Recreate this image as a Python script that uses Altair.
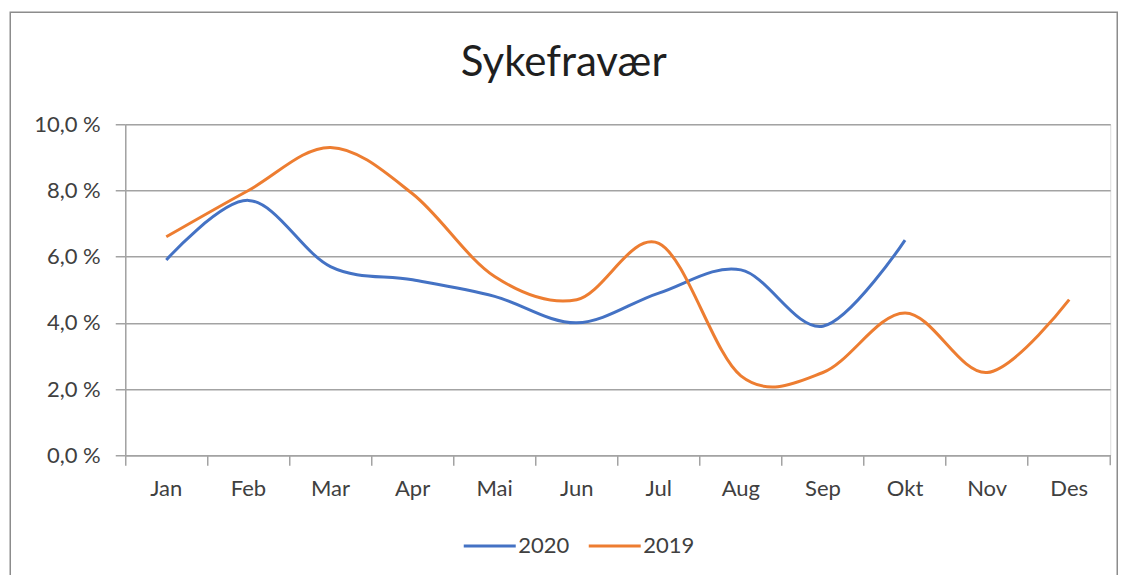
import altair as alt
import pandas as pd

months = ["Jan", "Feb", "Mar", "Apr", "Mai", "Jun", "Jul", "Aug", "Sep", "Okt", "Nov", "Des"]
series = ["2020", "2019"]
colors = ["#4472C4", "#ED7D31"]
v2020 = [5.9, 7.7, 5.7, 5.3, 4.8, 4.0, 4.9, 5.6, 3.9, 6.5]
v2019 = [6.6, 8.0, 9.3, 7.9, 5.4, 4.7, 6.4, 2.4, 2.5, 4.3, 2.5, 4.7]
y_ticks = [0, 2, 4, 6, 8, 10]

rows = []
for m, v in zip(months, v2020):
    rows.append({"Måned": m, "Sykefravær": v, "År": "2020"})
for m, v in zip(months, v2019):
    rows.append({"Måned": m, "Sykefravær": v, "År": "2019"})
df = pd.DataFrame(rows)

W, H = 985, 331
FONT = "Lato"
GRID = "#a3a3a3"
TEXT = "#404040"
LABEL_SIZE = 22

lines = alt.Chart(df).mark_line(interpolate="cardinal", tension=0, strokeWidth=3).encode(
    x=alt.X(
        "Måned:N",
        sort=months,
        bandPosition=0.5,
        scale=alt.Scale(type="band", paddingInner=0, paddingOuter=0),
        axis=alt.Axis(
            title=None, labelAngle=0, bandPosition=0, grid=False,
            domainColor=GRID, domainWidth=1.5, tickColor=GRID, tickWidth=1.5, tickSize=10,
            labelFont=FONT, labelFontSize=LABEL_SIZE, labelColor=TEXT, labelPadding=13,
        ),
    ),
    y=alt.Y(
        "Sykefravær:Q",
        scale=alt.Scale(domain=[0, 10], nice=False),
        axis=alt.Axis(
            title=None, values=y_ticks,
            labelExpr="replace(format(datum.value, '.1f'), '.', ',') + ' %'",
            grid=True, gridColor=GRID, gridWidth=1.5,
            domainColor=GRID, domainWidth=1.5, tickColor=GRID, tickWidth=1.5, tickSize=10,
            labelFont=FONT, labelFontSize=LABEL_SIZE, labelColor=TEXT, labelPadding=15,
        ),
    ),
    color=alt.Color(
        "År:N",
        sort=series,
        scale=alt.Scale(domain=series, range=colors),
        legend=alt.Legend(
            title=None, orient="none", direction="horizontal",
            legendX=337, legendY=394,
            symbolType="stroke", symbolSize=2704, symbolStrokeWidth=3,
            labelFont=FONT, labelFontSize=LABEL_SIZE, labelColor=TEXT, labelOffset=1,
            columnPadding=12,
        ),
    ),
)

frame = alt.Chart(pd.DataFrame({"f": [0]})).mark_rect(
    fill="white", fillOpacity=0, stroke="#8c8c8c", strokeWidth=1.5
).encode(
    x=alt.value(-115), x2=alt.value(992), y=alt.value(-112), y2=alt.value(470)
)

end_tick = alt.Chart(pd.DataFrame({"f": [0]})).mark_rule(
    color=GRID, strokeWidth=1.5
).encode(
    x=alt.value(W), y=alt.value(H), y2=alt.value(H + 10)
)

chart = alt.layer(frame, end_tick, lines).properties(
    width=W, height=H,
    padding={"left": 1.25, "top": 3.25, "right": 0, "bottom": 0},
    title=alt.TitleParams(
        "Sykefravær", font=FONT, fontSize=42, fontWeight="normal", color="#1f1f1f",
        anchor="middle", frame="bounds", offset=-73,
    ),
).configure_view(strokeWidth=0).configure(background="white")

chart.save("out.html", embed_options={"renderer": "svg", "actions": False})
